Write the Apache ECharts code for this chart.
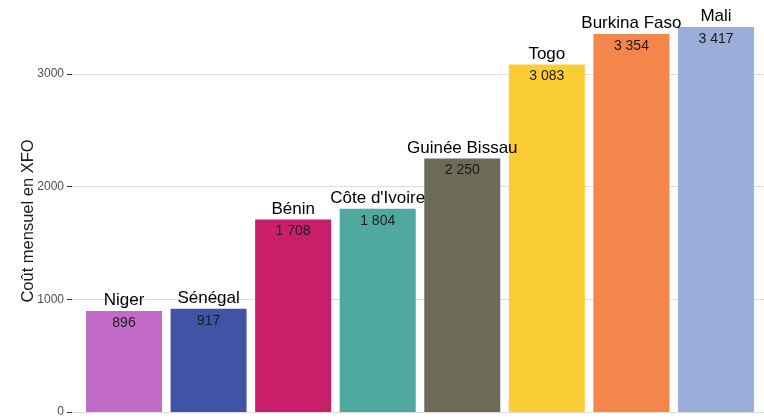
<!DOCTYPE html>
<html>
<head>
<meta charset="utf-8">
<script src="https://cdn.jsdelivr.net/npm/echarts@6/dist/echarts.min.js"></script>
<style>
  html, body { margin: 0; padding: 0; background: #fff; }
  #chart { width: 764px; height: 419px; }
</style>
</head>
<body>
<div id="chart"></div>
<script>
// Monthly cost per country (XOF)
const countries = ['Niger', 'Sénégal', 'Bénin', "Côte d'Ivoire", 'Guinée Bissau', 'Togo', 'Burkina Faso', 'Mali'];
const costs = [896, 917, 1708, 1804, 2250, 3083, 3354, 3417];
const barColors = ['#c36bc9', '#4053a5', '#c91f6a', '#4fa9a1', '#6b6b58', '#fbcd35', '#f5864b', '#9baed9'];
const yTicks = [0, 1000, 2000, 3000];

const fmt = v => String(v).replace(/\B(?=(\d{3})+(?!\d))/g, ' ');
const font = '"Liberation Sans", Arial, sans-serif';

const chart = echarts.init(document.getElementById('chart'), null, { renderer: 'canvas' });

chart.setOption({
  animation: false,
  backgroundColor: '#fff',
  textStyle: { fontFamily: font },
  grid: { left: 72, right: 0, top: 0, bottom: 7 },
  xAxis: {
    type: 'value',
    min: -0.615,
    max: 7.568,
    show: false
  },
  yAxis: {
    type: 'value',
    min: 0,
    max: 3656,
    axisLine: { show: false, onZero: false },
    axisTick: { show: true, length: 5, customValues: yTicks, lineStyle: { color: '#333', width: 1 } },
    axisLabel: {
      color: '#4d4d4d', fontSize: 12, margin: 8, fontFamily: font,
      customValues: yTicks,
      formatter: v => String(v)
    },
    splitLine: { show: false }
  },
  graphic: [{
    type: 'text',
    x: 28,
    y: 221,
    rotation: Math.PI / 2,
    style: {
      text: 'Coût mensuel en XFO',
      fontSize: 16.5,
      fill: '#1a1a1a',
      fontFamily: font,
      textAlign: 'center',
      textVerticalAlign: 'middle'
    }
  }],
  series: [
    {
      type: 'bar',
      barWidth: 76,
      z: 3,
      data: costs.map((v, i) => ({ value: [i, v], itemStyle: { color: barColors[i] } })),
      label: {
        show: true,
        position: 'insideTop',
        distance: 5,
        fontSize: 14,
        color: '#1a1a1a',
        fontFamily: font,
        formatter: p => fmt(p.value[1])
      },
      // horizontal grid lines at the labelled ticks
      markLine: {
        silent: true,
        symbol: 'none',
        z: 1,
        label: { show: false },
        lineStyle: { color: '#dcdcdc', width: 1, type: 'solid' },
        data: yTicks.map(t => ({ yAxis: t }))
      }
    },
    {
      // country names placed just above each bar
      type: 'scatter',
      symbolSize: 0,
      itemStyle: { opacity: 1 },
      data: costs.map((v, i) => [i, v]),
      label: {
        show: true,
        position: 'top',
        distance: 2,
        fontSize: 17,
        color: '#000',
        fontFamily: font,
        formatter: p => countries[p.dataIndex]
      },
      z: 5
    }
  ]
});
</script>
</body>
</html>
